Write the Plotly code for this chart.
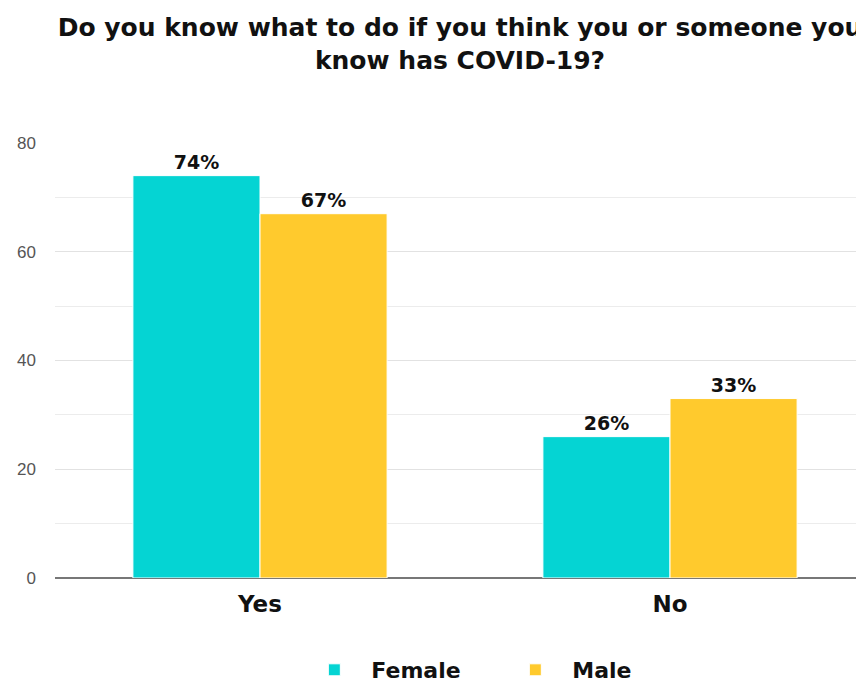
import plotly.graph_objects as go

categories = ["Yes", "No"]
female = [74, 26]
male = [67, 33]
series_names = ["Female", "Male"]
title_text = "Do you know what to do if you think you or someone you<br>know has COVID-19?"
y_ticks = [0, 20, 40, 60, 80]

TEAL = "#05D4D3"
YELLOW = "#FFCA2D"
FONT = "DejaVu Sans"

W, H = 856, 677  # page adds an 8px body margin

fig = go.Figure()
for name, vals, col in [(series_names[0], female, TEAL), (series_names[1], male, YELLOW)]:
    fig.add_trace(go.Bar(
        x=categories, y=vals, name=name,
        marker=dict(color=col, line=dict(color="white", width=1)),
        texttemplate="%{y}%", textposition="outside", cliponaxis=False,
        textfont=dict(family=FONT, size=19, color="#111", weight="bold"),
    ))

fig.update_layout(
    width=W, height=H,
    margin=dict(l=47, r=0, t=135, b=107, autoexpand=False),
    paper_bgcolor="white", plot_bgcolor="white",
    barmode="group", bargap=0.38, bargroupgap=0,
    title=dict(text=title_text, x=452/W, xanchor="center", xref="container",
               y=1 - 28/H, yanchor="middle", yref="container",
               font=dict(family=FONT, size=25, color="#111", weight="bold")),
    xaxis=dict(range=[-0.5, -0.5 + 809/410], showgrid=False, showline=False, automargin=False,
               ticks="", ticklabelstandoff=10,
               tickfont=dict(family=FONT, size=23, color="#111", weight="bold")),
    yaxis=dict(range=[0, 80], tickvals=y_ticks, showgrid=True, gridcolor="#e2e2e2", gridwidth=1,
               minor=dict(dtick=10, showgrid=True, gridcolor="#ececec", gridwidth=1),
               zeroline=True, zerolinecolor="#777", zerolinewidth=1.5, automargin=False,
               ticks="", ticklabelstandoff=18,
               tickfont=dict(family="Liberation Sans", size=17, color="#555")),
    legend=dict(orientation="h", x=0.548, xanchor="center",
                yref="container", y=1 - 662/H, yanchor="middle",
                font=dict(family=FONT, size=22, color="#111", weight="bold"),
                itemwidth=64, entrywidth=122),
)

fig.write_html("out.html")
